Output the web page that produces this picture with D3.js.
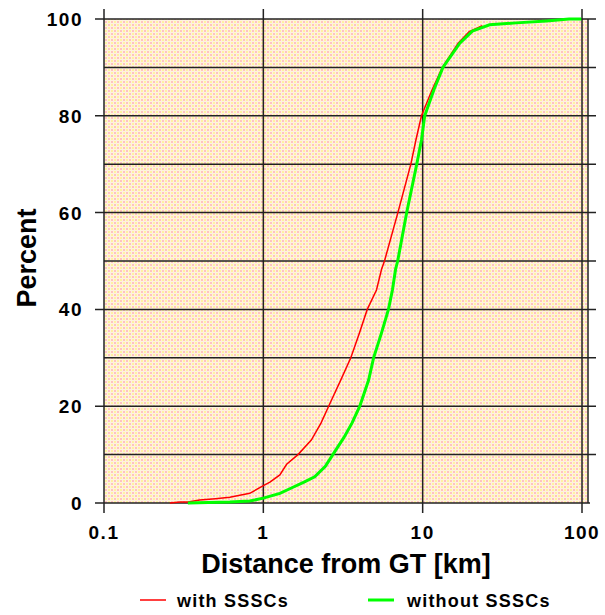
<!DOCTYPE html>
<html><head><meta charset="utf-8">
<script src="https://cdn.jsdelivr.net/npm/d3@7"></script>
<style>body{margin:0;background:#fff}svg{display:block}text{font-family:"Liberation Sans",Arial,sans-serif;font-weight:bold;fill:#000}</style>
</head><body>
<script>
const seriesNames = ["with SSSCs", "without SSSCs"];
const seriesColors = ["#ff0000", "#00ff00"];
// distance (km) and cumulative percent
const withDist = [0.259,0.30,0.336,0.399,0.50,0.616,0.822,1.0,1.10,1.27,1.40,1.65,2.0,2.3,2.57,3.06,3.54,4.0,4.49,5.13,5.52,5.76,6.99,8.43,9.07,9.83,11.5,13.3,16.7,19.6,23.7];
const withPct  = [0.0,0.2,0.2,0.6,0.9,1.2,2.0,3.6,4.3,5.8,8.0,10.0,13.0,16.5,20.0,25.4,30.0,35.0,40.0,44.0,48.3,50.0,60.0,70.0,75.0,80.0,85.5,90.0,95.0,97.4,98.6];
const withoutDist = [0.336,0.45,0.616,0.822,1.0,1.27,1.5,1.8,2.1,2.45,2.73,3.2,3.6,4.03,4.58,4.92,5.5,6.1,6.46,6.76,6.97,7.94,9.18,9.83,10.3,11.8,13.4,17.1,20.5,26.3,38.7,59.8,83.0,99.0];
const withoutPct  = [0.0,0.1,0.2,0.4,1.0,2.0,3.1,4.3,5.4,7.6,10.0,13.5,16.5,20.0,25.4,30.0,35.0,40.0,44.0,48.3,50.0,60.0,70.0,75.0,80.0,85.5,90.0,95.0,97.5,98.8,99.2,99.6,100.0,100.0];
const xTicks = [0.1, 1, 10, 100];
const xTickLabels = ["0.1", "1", "10", "100"];
const yMajor = [0, 20, 40, 60, 80, 100];
const yMinor = [10, 30, 50, 70, 90];

const W = 605, H = 615;
const L = 104, T = 19, B = 503, R = 588;
const svg = d3.select("body").append("svg").attr("width", W).attr("height", H);
const x = d3.scaleLog().domain([0.1, 100]).range([L, 582]);
const y = d3.scaleLinear().domain([0, 100]).range([B, T]);

const defs = svg.append("defs");
const pat = defs.append("pattern").attr("id","bg").attr("patternUnits","userSpaceOnUse").attr("width",6).attr("height",6);
pat.append("rect").attr("width",6).attr("height",6).attr("fill","#fff2de");
pat.append("rect").attr("x",0).attr("y",0).attr("width",2).attr("height",2).attr("fill","#ffc2c2");
pat.append("rect").attr("x",3).attr("y",3).attr("width",2).attr("height",2).attr("fill","#ffc2c2");
pat.append("rect").attr("x",3).attr("y",0).attr("width",2).attr("height",2).attr("fill","#fff2a0");
pat.append("rect").attr("x",0).attr("y",3).attr("width",2).attr("height",2).attr("fill","#fff2a0");

svg.append("rect").attr("x", L).attr("y", T).attr("width", R - L).attr("height", B - T).attr("fill", "url(#bg)");

const lineCol = "#222", lw = 1.5;
const g = svg.append("g");
// horizontal grid
g.selectAll(".hmaj").data(yMajor).enter().append("line")
  .attr("x1", 95).attr("x2", d => d === 0 ? 590 : 596)
  .attr("y1", d => y(d)).attr("y2", d => y(d)).attr("stroke", lineCol).attr("stroke-width", lw);
g.selectAll(".hmin").data(yMinor).enter().append("line")
  .attr("x1", L).attr("x2", 596)
  .attr("y1", d => y(d)).attr("y2", d => y(d)).attr("stroke", lineCol).attr("stroke-width", lw);
// vertical grid
g.selectAll(".v").data(xTicks).enter().append("line")
  .attr("x1", d => x(d)).attr("x2", d => x(d)).attr("y1", 9).attr("y2", 513)
  .attr("stroke", lineCol).attr("stroke-width", lw);
g.append("line").attr("x1", R).attr("x2", R).attr("y1", T).attr("y2", B).attr("stroke", lineCol).attr("stroke-width", lw);

// curves
const lineGen = d3.line().x(d => x(d[0])).y(d => y(d[1]));
const dataWith = d3.zip(withDist, withPct);
const dataWithout = d3.zip(withoutDist, withoutPct);
svg.append("path").datum(dataWith).attr("d", lineGen).attr("fill","none").attr("stroke", seriesColors[0]).attr("stroke-width", 1.5);
svg.append("path").datum(dataWithout).attr("d", lineGen).attr("fill","none").attr("stroke", seriesColors[1]).attr("stroke-width", 3);

// tick labels
svg.selectAll(".xl").data(xTicks).enter().append("text")
  .attr("x", d => x(d)).attr("y", 539).attr("text-anchor","middle").attr("font-size", 19).attr("letter-spacing", 1.5)
  .text((d,i) => xTickLabels[i]);
svg.selectAll(".yl").data(yMajor).enter().append("text")
  .attr("x", 83).attr("y", d => y(d) + 7).attr("text-anchor","end").attr("font-size", 19).attr("letter-spacing", 1.5)
  .text(d => d);

// axis titles
svg.append("text").attr("x", 346).attr("y", 573).attr("text-anchor","middle").attr("font-size", 27).text("Distance from GT [km]");
svg.append("text").attr("transform","translate(36,258) rotate(-90)").attr("text-anchor","middle").attr("font-size", 27).text("Percent");

// legend
const legX = [140, 368], legTX = [177, 407];
const leg = svg.selectAll(".leg").data(seriesNames).enter().append("g");
leg.append("line").attr("x1", (d,i) => legX[i]).attr("x2", (d,i) => legX[i] + 26).attr("y1", 600).attr("y2", 600)
  .attr("stroke", (d,i) => seriesColors[i]).attr("stroke-width", (d,i) => i === 0 ? 1.5 : 3);
leg.append("text").attr("x", (d,i) => legTX[i]).attr("y", 607).attr("font-size", 18).attr("letter-spacing", 1.2).text(d => d);
</script>
</body></html>
